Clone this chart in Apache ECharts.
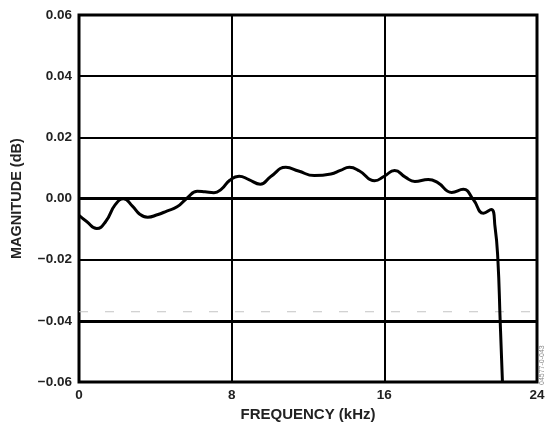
<!DOCTYPE html>
<html><head><meta charset="utf-8">
<script src="https://cdn.jsdelivr.net/npm/echarts@6/dist/echarts.min.js"></script>
<style>html,body{margin:0;padding:0;background:#fff}#c{width:548px;height:427px}</style>
</head><body><div id="c"></div>
<script>
const xTicks = [0, 8, 16, 24];
const yTicks = [-0.06, -0.04, -0.02, 0, 0.02, 0.04, 0.06];
const freqKHz = [0, 0.4, 0.93, 1.4, 1.9, 2.33, 2.8, 3.2, 3.6, 4.1, 4.6, 5.14, 5.67, 6.2, 6.6, 7.07, 7.45, 7.9, 8.39, 8.9, 9.5, 10.05, 10.84, 11.5, 12.33, 13.2, 13.7, 14.17, 14.7, 15.49, 16.0, 16.54, 17.1, 17.6, 18.3, 18.8, 19.53, 20.14, 20.67, 21.19, 21.6, 21.8, 21.95, 22.07, 22.19];
const magnitudeDB = [-0.0055, -0.0075, -0.0098, -0.0075, -0.002, -0.0001, -0.0025, -0.0052, -0.0061, -0.0053, -0.0041, -0.0027, 0.0002, 0.0024, 0.0022, 0.0019, 0.0030, 0.0060, 0.0073, 0.0062, 0.0047, 0.0072, 0.0102, 0.0090, 0.0075, 0.0080, 0.0092, 0.0102, 0.0090, 0.0058, 0.0073, 0.0092, 0.0070, 0.0056, 0.0062, 0.0052, 0.0020, 0.0030, -0.0004, -0.0048, -0.0036, -0.0092, -0.020, -0.040, -0.060];
const faintLineValue = -0.037;
const figureId = '04577-0-043';

const chart = echarts.init(document.getElementById('c'));
const font = '"Liberation Sans", Arial, sans-serif';
chart.setOption({
  animation: false,
  grid: {left: 79, top: 15, right: 11, bottom: 44, show: true, borderColor: '#000', borderWidth: 3, backgroundColor: 'transparent'},
  xAxis: {
    type: 'value', min: xTicks[0], max: xTicks[xTicks.length - 1], interval: 8,
    name: 'FREQUENCY (kHz)', nameLocation: 'middle', nameGap: 22,
    nameTextStyle: {fontFamily: font, fontSize: 15, fontWeight: 'bold', color: '#222'},
    axisLine: {show: false}, axisTick: {show: false},
    axisLabel: {fontFamily: font, fontSize: 13.5, fontWeight: 'bold', color: '#222', margin: 6},
    splitLine: {show: true, lineStyle: {color: '#000', width: 2}}
  },
  yAxis: {
    type: 'value', min: yTicks[0], max: yTicks[yTicks.length - 1], interval: 0.02,
    name: 'MAGNITUDE (dB)', nameLocation: 'middle', nameGap: 55,
    nameTextStyle: {fontFamily: font, fontSize: 14.5, fontWeight: 'bold', color: '#222'},
    axisLine: {show: false}, axisTick: {show: false},
    axisLabel: {fontFamily: font, fontSize: 13.5, fontWeight: 'bold', color: '#222', margin: 7,
      formatter: v => (v < 0 ? '\u2212' : '') + Math.abs(v).toFixed(2)},
    splitLine: {show: true, lineStyle: {color: '#000', width: 2}}
  },
  graphic: [{
    type: 'text', x: 539, y: 385, rotation: Math.PI / 2,
    style: {text: figureId, fontFamily: font, fontSize: 7, fill: '#888'}
  }],
  series: [{
    type: 'line', showSymbol: false, silent: true,
    data: [[xTicks[0], faintLineValue], [xTicks[xTicks.length - 1], faintLineValue]],
    lineStyle: {color: '#c4c4c4', width: 1, type: [9, 17]}, z: 2
  }, {
    type: 'line', showSymbol: false, smooth: 0.5,
    data: freqKHz.map((f, i) => [f, magnitudeDB[i]]),
    lineStyle: {color: '#000', width: 3},
    markLine: {
      silent: true, symbol: 'none', label: {show: false},
      data: [
        {yAxis: 0, lineStyle: {color: '#000', width: 3, type: 'solid'}},
        {yAxis: -0.04, lineStyle: {color: '#000', width: 3, type: 'solid'}}
      ]
    },
    z: 5
  }]
});
</script></body></html>
